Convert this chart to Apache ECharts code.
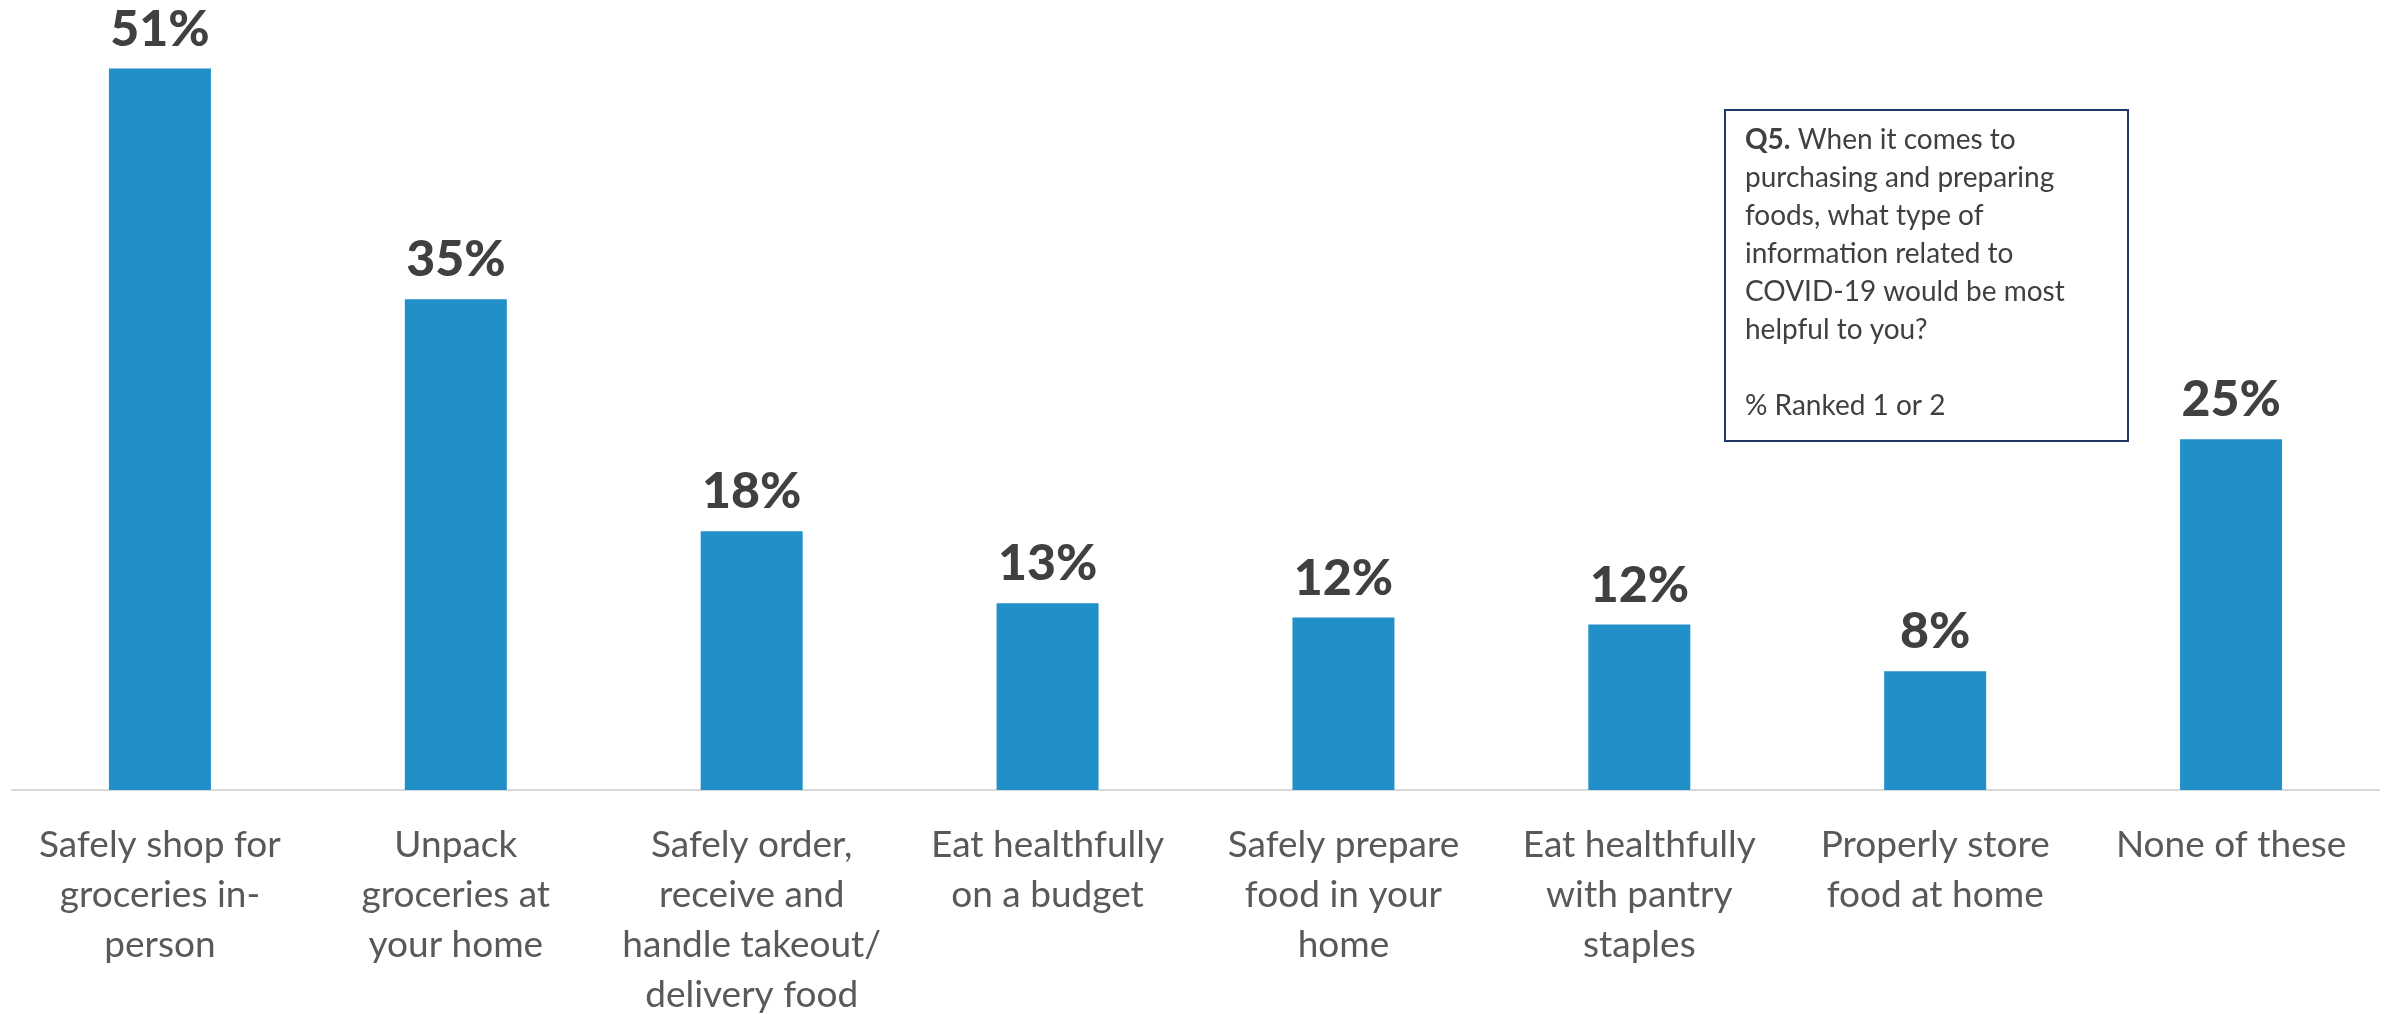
<!DOCTYPE html>
<html>
<head>
<meta charset="utf-8">
<script src="https://cdn.jsdelivr.net/npm/echarts@6/dist/echarts.min.js"></script>
<style>
  html, body { margin: 0; padding: 0; background: #fff; }
  #chart { width: 2394px; height: 1014px; }
</style>
</head>
<body>
<div id="chart"></div>
<script>
// 类别与数值
const categories = [
  'Safely shop for\ngroceries in-\nperson',
  'Unpack\ngroceries at\nyour home',
  'Safely order,\nreceive and\nhandle takeout/\ndelivery food',
  'Eat healthfully\non a budget',
  'Safely prepare\nfood in your\nhome',
  'Eat healthfully\nwith pantry\nstaples',
  'Properly store\nfood at home',
  'None of these'
];
const values = [51, 34.7, 18.3, 13.2, 12.2, 11.7, 8.4, 24.8];
const noteLines = [
  'When it comes to',
  'purchasing and preparing',
  'foods, what type of',
  'information related to',
  'COVID-19 would be most',
  'helpful to you?',
  '',
  '% Ranked 1 or 2'
];

const myChart = echarts.init(document.getElementById('chart'));
const option = {
  animation: false,
  grid: { left: 12, right: 15, top: 12, bottom: 224, outerBoundsMode: 'none', containLabel: false },
  xAxis: {
    type: 'category',
    data: categories,
    axisLine: { lineStyle: { color: '#d9d9d9', width: 2 } },
    axisTick: { length: 15, lineStyle: { color: '#d9d9d9', width: 2 } },
    axisLabel: {
      interval: 0,
      margin: 30,
      color: '#595959',
      fontFamily: 'Lato',
      fontSize: 37,
      lineHeight: 50
    }
  },
  yAxis: {
    type: 'value',
    min: 0,
    max: 55,
    show: false,
    splitLine: { show: false }
  },
  series: [{
    type: 'bar',
    data: values,
    barWidth: 102,
    itemStyle: { color: '#2190c8' },
    label: {
      show: true,
      position: 'top',
      distance: 14,
      color: '#404040',
      fontFamily: 'Lato',
      fontWeight: 900,
      fontSize: 50,
      formatter: p => Math.round(p.value) + '%'
    }
  }],
  graphic: [
    {
      type: 'rect',
      left: 1724,
      top: 109,
      shape: { width: 403, height: 331 },
      style: { fill: '#fff', stroke: '#203864', lineWidth: 2 }
    },
    {
      type: 'text',
      left: 1745,
      top: 121,
      style: {
        text: '{b|Q5.} ' + noteLines.join('\n'),
        fontFamily: 'Lato',
        fontSize: 28,
        lineHeight: 38,
        fill: '#404040',
        rich: {
          b: { fontWeight: 'bold', fontSize: 28, fontFamily: 'Lato', fill: '#404040', lineHeight: 38 }
        }
      }
    }
  ]
};
myChart.setOption(option);
window.addEventListener('resize', () => {
  myChart.resize();
});
</script>
</body>
</html>
